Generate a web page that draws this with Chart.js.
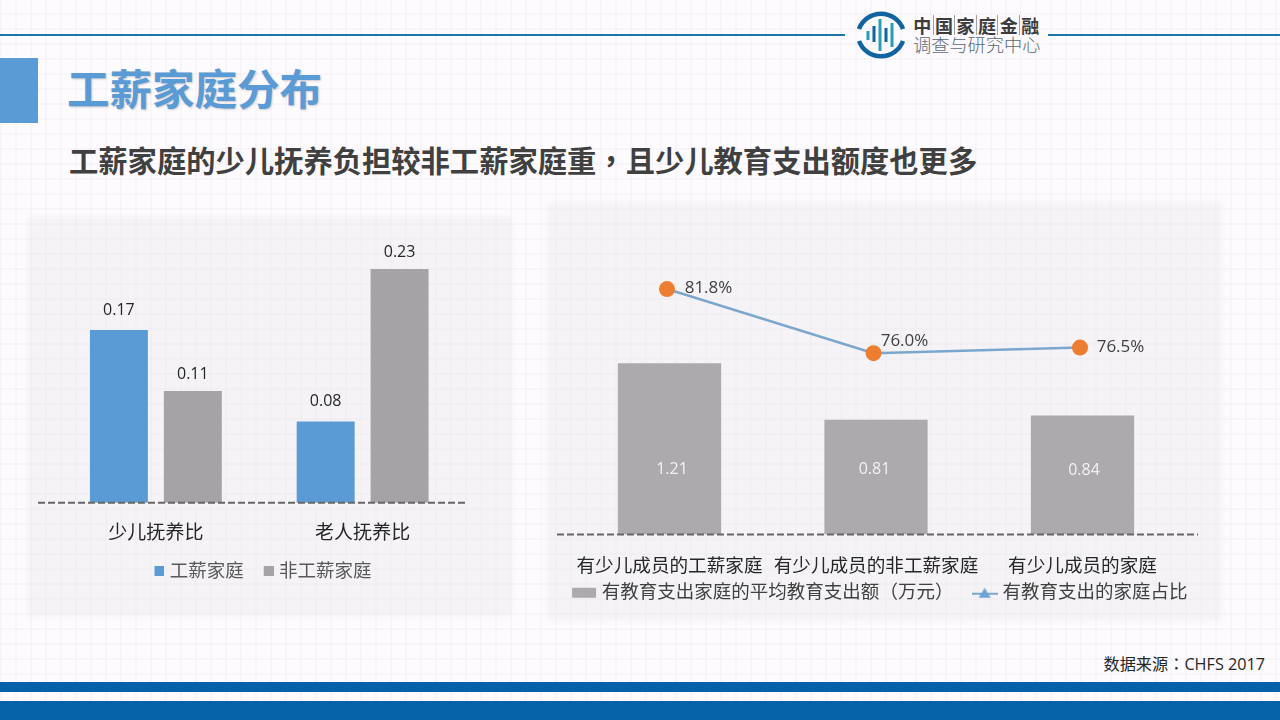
<!DOCTYPE html>
<html>
<head>
<meta charset="utf-8">
<script src="https://cdn.jsdelivr.net/npm/chart.js@4"></script>
<style>
html, body { margin: 0; padding: 0; }
body {
  width: 1280px; height: 720px; overflow: hidden; position: relative;
  font-family: "Open Sans", "Noto Sans CJK SC", sans-serif;
  background-color: #fdfbfe;
  background-image:
    repeating-linear-gradient(0deg, rgba(195,190,215,.09) 0 2px, transparent 2px 15px),
    repeating-linear-gradient(90deg, rgba(195,190,215,.09) 0 2px, transparent 2px 15px);
}
.abs { position: absolute; }
.panel { position: absolute; background: rgba(228,228,232,.34); box-shadow: 0 0 6px 2px rgba(228,228,232,.34); }
.rule { position: absolute; height: 2px; top: 34px; background: #1c75ac; }
.tc { font-family: "Noto Sans CJK TC"; }
#title { left: 67px; top: 58px; font: bold 42.5px "Noto Sans CJK SC"; color: #5b9bd5; text-shadow: 1px 1px 2px rgba(90,90,90,.3); line-height: 58px; white-space: nowrap; }
#sub { left: 69px; top: 138px; font: bold 29.3px "Noto Sans CJK SC"; color: #404040; line-height: 42px; white-space: nowrap; }
#src { right: 15px; top: 652px; font-size: 16.2px; color: #262626; line-height: 22px; white-space: nowrap; }
#logo1 { left: 912px; top: 13px; font: bold 18px "Noto Sans CJK SC"; color: #3c3c3c; line-height: 24px; white-space: nowrap; }
#logo1 span { display: inline-block; width: 20.6px; text-align: center; border-right: 1px solid #a0a0a0; line-height: 20px; }
#logo1 span:last-child { border-right: 0; }
#logo2 { left: 913px; top: 32px; font: 300 18.2px "Noto Sans CJK SC"; color: #5a6a75; line-height: 24px; white-space: nowrap; }
canvas { position: absolute; }
</style>
</head>
<body>
<div class="panel" style="left:30px;top:219px;width:480px;height:395px"></div>
<div class="panel" style="left:549px;top:204px;width:671px;height:414px"></div>
<div class="rule" style="left:0;width:845px"></div>
<div class="rule" style="left:1048px;width:232px"></div>
<svg class="abs" style="left:854px;top:8px" width="54" height="54" viewBox="0 0 54 54">
  <path d="M5 21 A23.5 23.5 0 0 1 49 21" fill="none" stroke="#11649f" stroke-width="4.5"/>
  <path d="M5 33 A23.5 23.5 0 0 0 49 33" fill="none" stroke="#11649f" stroke-width="4.5"/>
  <path d="M14 23v9M26 11v32M38 15v24" stroke="#2a9db5" stroke-width="3" fill="none"/>
  <path d="M20 18v16M32 20v14" stroke="#11649f" stroke-width="3" fill="none"/>
</svg>
<div class="abs" id="logo1"><span>中</span><span>国</span><span>家</span><span>庭</span><span>金</span><span>融</span></div>
<div class="abs" id="logo2">调查与研究中心</div>
<div class="abs" style="left:0;top:58px;width:38px;height:65px;background:#5b9bd5"></div>
<div class="abs" id="title">工薪家庭分布</div>
<div class="abs" id="sub">工薪家庭的少儿抚养负担较非工薪家庭重<span class="tc">，</span>且少儿教育支出额度也更多</div>
<canvas id="ageChart" style="left:38px;top:230px;width:428px;height:370px" width="428" height="370"></canvas>
<canvas id="eduChart" style="left:547px;top:252px;width:675px;height:390px" width="675" height="390"></canvas>
<div class="abs" id="src">数据来源<span class="tc">：</span>CHFS 2017</div>
<div class="abs" style="left:0;top:682px;width:1280px;height:10px;background:#0562a8"></div>
<div class="abs" style="left:0;top:701px;width:1280px;height:19px;background:#0562a8"></div>
<script>
var ageCategories = ['少儿抚养比', '老人抚养比'];
var wageFamily = [0.17, 0.08];
var nonWageFamily = [0.11, 0.23];

var eduCategories = ['有少儿成员的工薪家庭', '有少儿成员的非工薪家庭', '有少儿成员的家庭'];
var eduSpend = [1.21, 0.81, 0.84];
var eduShare = [81.8, 76.0, 76.5];

var cjk = '"Open Sans", "Noto Sans CJK SC", sans-serif';
Chart.defaults.animation = false;
Chart.defaults.responsive = false;
Chart.defaults.font.family = cjk;

// dashed baseline runs past the plot area
var baseline = {
  id: 'baseline',
  afterDatasetsDraw: function(chart, args, opts) {
    var y = chart.scales.y.getPixelForValue(0);
    var c = chart.ctx;
    c.save();
    c.strokeStyle = '#666666';
    c.lineWidth = 2;
    c.setLineDash([7, 3]);
    c.beginPath();
    c.moveTo(opts.from, y);
    c.lineTo(opts.to, y);
    c.stroke();
    c.restore();
  }
};

// legend sits closer to the axis than chart.js would put it
var legendShift = {
  id: 'legendShift',
  afterLayout: function(chart, args, opts) {
    chart.legend.left += opts.dx;
    chart.legend.right += opts.dx;
    chart.legend.top += opts.dy;
    chart.legend.bottom += opts.dy;
  }
};

var valueLabels = {
  id: 'valueLabels',
  afterDatasetsDraw: function(chart) {
    var c = chart.ctx;
    c.save();
    c.textAlign = 'center';
    chart.data.datasets.forEach(function(ds, i) {
      var vl = ds.valueLabel;
      if (!vl) return;
      chart.getDatasetMeta(i).data.forEach(function(el, j) {
        c.font = vl.font;
        c.fillStyle = vl.color;
        c.textBaseline = 'middle';
        var pos = vl.place(el, j);
        c.fillText(vl.format(ds.data[j]), pos.x, pos.y);
      });
    });
    c.restore();
  }
};

// legend swatches, drawn off to one side of the legend box
function swatch(w, h, draw) {
  var s = document.createElement('canvas');
  s.width = w; s.height = h;
  draw(s.getContext('2d'));
  return s;
}
function legendItem(text, style, color) {
  return { text: text, pointStyle: style, fontColor: color, lineWidth: 0, strokeStyle: 'transparent', fillStyle: 'transparent' };
}
var wageSwatch = swatch(18, 10, function(c) {
  c.fillStyle = '#5b9bd5';
  c.fillRect(8, 0, 10, 10);
});
var nonWageSwatch = swatch(18, 10, function(c) {
  c.fillStyle = '#a5a3a6';
  c.fillRect(8, 0, 10, 10);
});
var barSwatch = swatch(26, 12, function(c) {
  c.fillStyle = '#acaaad';
  c.fillRect(1, 1, 24, 10);
});
var lineSwatch = swatch(26, 12, function(c) {
  c.strokeStyle = '#7ba7cf';
  c.lineWidth = 2;
  c.beginPath(); c.moveTo(0, 7); c.lineTo(26, 7); c.stroke();
  c.fillStyle = '#6ea5d8';
  c.beginPath(); c.moveTo(13, 1); c.lineTo(19, 11); c.lineTo(7, 11); c.closePath(); c.fill();
});

new Chart(document.getElementById('ageChart'), {
  type: 'bar',
  plugins: [baseline, legendShift, valueLabels],
  data: {
    labels: ageCategories,
    datasets: [{
      label: '工薪家庭',
      data: wageFamily,
      backgroundColor: '#5b9bd5',
      valueLabel: {
        font: '16px ' + cjk, color: '#262626',
        format: function(v) { return v.toFixed(2); },
        place: function(el) { return { x: el.x, y: el.y - 20 }; }
      }
    }, {
      label: '非工薪家庭',
      data: nonWageFamily,
      backgroundColor: '#a5a3a6',
      valueLabel: {
        font: '16px ' + cjk, color: '#262626',
        format: function(v) { return v.toFixed(2); },
        place: function(el) { return { x: el.x, y: el.y - 17 }; }
      }
    }]
  },
  options: {
    categoryPercentage: 0.715,
    barPercentage: 0.784,
    layout: { padding: { left: 14.5, right: -1.5, top: 0, bottom: 0 } },
    scales: {
      x: {
        grid: { display: false },
        border: { display: false },
        ticks: { color: '#262626', font: { size: 19 }, padding: 11 }
      },
      y: { display: false, min: 0, max: 0.2685 }
    },
    plugins: {
      baseline: { from: 0, to: 428 },
      legendShift: { dx: 1, dy: -9.5 },
      tooltip: { enabled: false },
      legend: {
        position: 'bottom',
        labels: {
          color: '#595959',
          font: { size: 18.5 },
          padding: 16,
          usePointStyle: true,
          pointStyleWidth: 10,
          generateLabels: function() {
            return [legendItem('工薪家庭', wageSwatch, '#595959'), legendItem('非工薪家庭', nonWageSwatch, '#595959')];
          }
        }
      }
    }
  }
});

new Chart(document.getElementById('eduChart'), {
  type: 'bar',
  plugins: [baseline, legendShift, valueLabels],
  data: {
    labels: eduCategories,
    datasets: [{
      type: 'line',
      label: '有教育支出的家庭占比',
      data: eduShare.map(function(v, i) { return { x: i, y: v }; }),
      xAxisID: 'xLine',
      yAxisID: 'yShare',
      borderColor: '#7ba7cf',
      borderWidth: 2.5,
      pointRadius: 8,
      pointBackgroundColor: '#ed7d31',
      pointBorderColor: '#ed7d31',
      pointBorderWidth: 0,
      order: 1,
      valueLabel: {
        font: '17px ' + cjk, color: '#404040',
        format: function(p) { return p.y.toFixed(1) + '%'; },
        place: function(el, j) {
          return [{ x: el.x + 41.5, y: el.y - 1 }, { x: el.x + 31, y: el.y - 12 }, { x: el.x + 40.5, y: el.y }][j];
        }
      }
    }, {
      label: '有教育支出家庭的平均教育支出额（万元）',
      data: eduSpend,
      grouped: false,
      backgroundColor: '#acaaad',
      order: 2,
      valueLabel: {
        font: '16px ' + cjk, color: '#f2f2f2',
        format: function(v) { return v.toFixed(2); },
        place: function(el, j) { return { x: el.x + [2.5, -1.5, 1.5][j], y: el.y + [106, 50, 55][j] }; }
      }
    }]
  },
  options: {
    categoryPercentage: 1,
    barPercentage: 0.5,
    scales: {
      x: {
        grid: { display: false },
        border: { display: false },
        ticks: { color: '#262626', font: { size: 18.6 }, padding: 13, maxRotation: 0, autoSkip: false }
      },
      xLine: { type: 'linear', display: false, offset: false, min: -0.488, max: 2.512 },
      // blank axes hold the plot inside the canvas, the legend keeps the full width
      y: {
        min: 0, max: 1.94,
        grid: { display: false }, border: { display: false }, ticks: { display: false },
        afterFit: function(s) { s.width = 19.25; }
      },
      yShare: {
        position: 'right', min: 59.59, max: 84.43,
        grid: { display: false }, border: { display: false }, ticks: { display: false },
        afterFit: function(s) { s.width = 36.25; }
      }
    },
    plugins: {
      baseline: { from: 10, to: 651 },
      legendShift: { dx: -3, dy: -30 },
      tooltip: { enabled: false },
      legend: {
        position: 'bottom',
        labels: {
          color: '#404040',
          font: { size: 18.5 },
          padding: 22.75,
          usePointStyle: true,
          pointStyleWidth: 17,
          generateLabels: function() {
            return [
              legendItem('有教育支出家庭的平均教育支出额（万元）', barSwatch, '#404040'),
              legendItem('有教育支出的家庭占比', lineSwatch, '#404040')
            ];
          }
        }
      }
    }
  }
});
</script>
</body>
</html>
